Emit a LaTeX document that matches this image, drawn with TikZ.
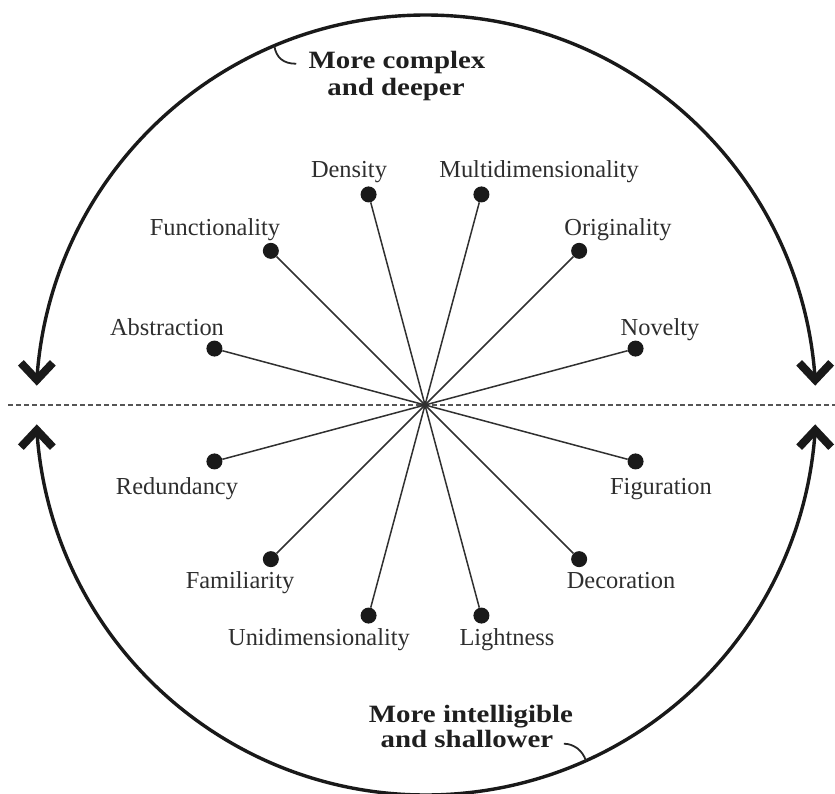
\documentclass[tikz,border=0pt]{standalone}
\usepackage{fontspec}
\setmainfont{Liberation Serif}
\newfontfamily\boldlabfont[FakeStretch=1.16]{Liberation Serif}
\usetikzlibrary{calc}
\definecolor{labgray}{HTML}{2E2E2E}
\definecolor{spokegray}{HTML}{303030}
\definecolor{dashgray}{HTML}{555555}
\tikzset{
  lab/.style={text=labgray, font=\fontsize{24.5}{28}\selectfont, inner sep=0pt, anchor=base},
  boldlab/.style={text=black!88, font=\boldlabfont\bfseries\fontsize{25}{28}\selectfont, inner sep=0pt, anchor=base},
  dotnode/.style={circle, fill=black!90, draw=none, minimum size=16bp, inner sep=0pt},
  cdot/.style={circle, fill=black, draw=none, minimum size=6bp, inner sep=0pt},
  spoke/.style={draw=spokegray, line width=1.5bp},
  arcline/.style={draw=black!90, line width=3.4bp},
  chev/.style={draw=black!90, line width=8bp, line join=miter, line cap=butt},
  hook/.style={draw=black!85, line width=1.8bp},
  dashline/.style={draw=dashgray, line width=1.5bp, dash pattern=on 5bp off 3bp}
}
\begin{document}
\begin{tikzpicture}[x=1bp,y=1bp]
\useasboundingbox (0,0) rectangle (835,-794);
\coordinate (C0) at (426,-405);
\coordinate (C) at (425,-405);
% dashed horizon
\coordinate (dl) at (8,-405);
\coordinate (dr) at (835,-405);
\draw[dashline] (dl) -- (dr);
% arcs
\coordinate (TL) at ($(C0)+(176.3:390)$);
\coordinate (TR) at ($(C0)+(3.7:390)$);
\coordinate (BL) at ($(C0)+(183.7:390)$);
\coordinate (BR) at ($(C0)+(356.3:390)$);
\draw[arcline] (TL) arc[start angle=176.3, end angle=3.7, radius=390];
\draw[arcline] (BL) arc[start angle=183.7, end angle=356.3, radius=390];
\draw[chev] ($(TL)+(-16,17)$) -- ($(TL)+(0,0)$) -- ($(TL)+(16,17)$);
\draw[chev] ($(TR)+(-16,17)$) -- ($(TR)+(0,0)$) -- ($(TR)+(16,17)$);
\draw[chev] ($(BL)+(-16,-17)$) -- ($(BL)+(0,0)$) -- ($(BL)+(16,-17)$);
\draw[chev] ($(BR)+(-16,-17)$) -- ($(BR)+(0,0)$) -- ($(BR)+(16,-17)$);
% hooks
\coordinate (A1) at ($(C0)+(112.9:390)$);
\draw[hook] (A1) .. controls ($(A1)+(2,-12)$) and ($(A1)+(9,-18)$) .. ($(A1)+(22,-18)$);
\coordinate (B1) at ($(C0)+(-65.8:390)$);
\draw[hook] (B1) .. controls ($(B1)+(-3,10)$) and ($(B1)+(-12,17)$) .. ($(B1)+(-22,17)$);
% bold labels
\node[boldlab] (t1) at (397,-69) {More complex};
\node[boldlab] (t2) at (396,-95) {and deeper};
\node[boldlab] (b1) at (471,-722) {More intelligible};
\node[boldlab] (b2) at (467,-747) {and shallower};
% center and spokes
\node[cdot] (c) at (C) {};
\foreach \a/\n in {105/dens,75/mult,135/func,45/orig,165/abst,15/nove,195/redu,345/figu,225/fami,315/deco,255/unid,285/ligh}{
  \node[dotnode] (\n) at ($(C)+(\a:218)$) {};
  \draw[spoke] (c.center) -- (\n);
}
% labels
\node[lab] (ldens) at (349,-177) {Density};
\node[lab] (lmult) at (539,-177) {Multidimensionality};
\node[lab] (lfunc) at (215,-235) {Functionality};
\node[lab] (lorig) at (618,-235) {Originality};
\node[lab] (labst) at (167,-335) {Abstraction};
\node[lab] (lnove) at (660,-335) {Novelty};
\node[lab] (lredu) at (177,-494) {Redundancy};
\node[lab] (lfigu) at (661,-494) {Figuration};
\node[lab] (lfami) at (240,-588) {Familiarity};
\node[lab] (ldeco) at (621,-588) {Decoration};
\node[lab] (lunid) at (319,-645) {Unidimensionality};
\node[lab] (lligh) at (507,-645) {Lightness};
\end{tikzpicture}
\end{document}
